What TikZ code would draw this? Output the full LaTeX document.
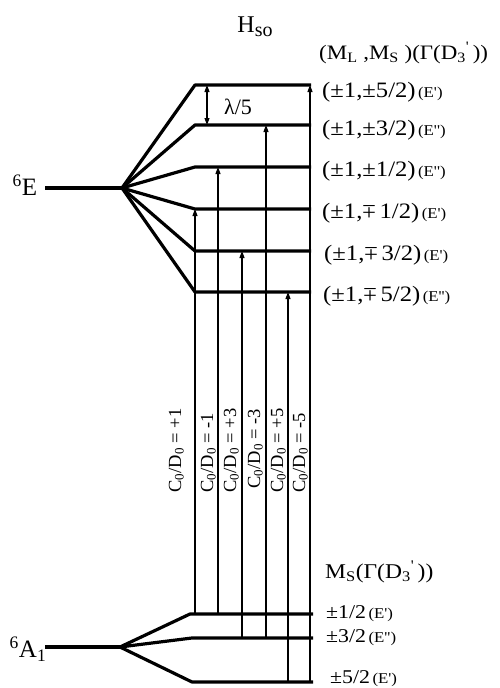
\documentclass[tikz,border=0pt]{standalone}
\usepackage{fontspec}
\setmainfont{Liberation Serif}
\newfontfamily\wideserif{Liberation Serif}[FakeStretch=1.12]
\usetikzlibrary{arrows.meta}
% minus-plus sign built from a turned plus-minus sign
\newcommand\mpsgn{\rotatebox[origin=c]{180}{±}}
% small irreducible-representation tag
\newcommand\irr[1]{{\fontsize{15}{16}\selectfont\,(#1)}}
% D'_3 group symbol
\newcommand\dthree{D\textsubscript{3}\textsuperscript{'}}
\tikzset{
  level/.style={line width=3.2pt, line join=round},
  trans/.style={line width=1.1pt, -{Triangle[length=7pt,width=5pt]}},
  gap/.style={line width=1.1pt, {Triangle[length=7pt,width=5pt]}-{Triangle[length=7pt,width=5pt]}},
  statelab/.style={anchor=west, inner sep=0pt, font=\wideserif\fontsize{22}{24}\selectfont},
  groundlab/.style={anchor=west, inner sep=0pt, font=\wideserif\fontsize{19.5}{21}\selectfont},
  termlab/.style={inner sep=0pt, font=\fontsize{25}{27}\selectfont},
  ratiolab/.style={rotate=90, anchor=south west, inner sep=0pt, font=\fontsize{18.5}{20}\selectfont},
}
\begin{document}
\begin{tikzpicture}[x=1pt,y=-1pt]
\useasboundingbox (0,0) rectangle (500,688);

% ---- excited term 6E and its spin-orbit components ----
\coordinate (Ebp) at (122,188);
\coordinate (Eleft) at (45,188);
\foreach \n/\y in {1/85,2/125,3/167,4/209,5/251,6/292}{
  \coordinate (u\n s) at (195,\y);
  \coordinate (u\n e) at (311,\y);
}
\draw[level] (Eleft) -- (Ebp);
\foreach \n in {1,...,6}{
  \draw[level] (Ebp) -- (u\n s) -- (u\n e);
}

% ---- ground term 6A1 ----
\coordinate (Abp) at (120,647);
\coordinate (Aleft) at (45,647);
\coordinate (g1s) at (190,614); \coordinate (g1e) at (313,614);
\coordinate (g2s) at (192,638); \coordinate (g2e) at (313,638);
\coordinate (g3s) at (192,682); \coordinate (g3e) at (313,682);
\draw[level] (Aleft) -- (Abp);
\foreach \n in {1,2,3}{
  \draw[level] (Abp) -- (g\n s) -- (g\n e);
}

% ---- transitions ----
\coordinate (t1b) at (195,614); \coordinate (t1t) at (195,209);
\coordinate (t2b) at (218,614); \coordinate (t2t) at (218,167);
\coordinate (t3b) at (242,638); \coordinate (t3t) at (242,251);
\coordinate (t4b) at (266,638); \coordinate (t4t) at (266,125);
\coordinate (t5b) at (288,682); \coordinate (t5t) at (288,292);
\coordinate (t6b) at (310,682); \coordinate (t6t) at (310,85);
\foreach \n in {1,...,6}{
  \draw[trans] (t\n b) -- (t\n t);
}

% ratio labels along the transitions
\node[ratiolab] (r1) at (184,493) {C\textsubscript{0}/D\textsubscript{0} = +1};
\node[ratiolab] (r2) at (216,493) {C\textsubscript{0}/D\textsubscript{0} = -1};
\node[ratiolab] (r3) at (239,493) {C\textsubscript{0}/D\textsubscript{0} = +3};
\node[ratiolab] (r4) at (263,489) {C\textsubscript{0}/D\textsubscript{0} = -3};
\node[ratiolab] (r5) at (286,493) {C\textsubscript{0}/D\textsubscript{0} = +5};
\node[ratiolab] (r6) at (308,493) {C\textsubscript{0}/D\textsubscript{0} = -5};

% splitting marker
\coordinate (lamtop) at (207,85);
\coordinate (lambot) at (207,125);
\draw[gap] (lamtop) -- (lambot);
\node[inner sep=0pt, font=\fontsize{22}{24}\selectfont] (lam) at (238,107) {λ/5};

% ---- headings ----
\node[inner sep=0pt, font=\fontsize{24}{26}\selectfont] (hso) at (255,27)
  {H{\fontsize{20}{20}\selectfont\raisebox{-0.4ex}{so}}};
\node[statelab, font=\wideserif\fontsize{20.5}{23}\selectfont] (hdr) at (319,53)
  {(M\textsubscript{L} ,M\textsubscript{S} )(Γ(\dthree\,))};
\node[groundlab, font=\wideserif\fontsize{21}{22}\selectfont] (ghdr) at (325,572)
  {M\textsubscript{S}(Γ(\dthree\,))};

% term symbols
\node[termlab] (E6) at (25,185) {\textsuperscript{6}E};
\node[termlab] (A6) at (28,649) {\textsuperscript{6}A\textsubscript{1}};

% ---- component labels ----
\node[statelab] (l1) at (322,92) {(±1,±5/2)\irr{E'}};
\node[statelab] (l2) at (322,130) {(±1,±3/2)\irr{E''}};
\node[statelab] (l3) at (322,171) {(±1,±1/2)\irr{E''}};
\node[statelab] (l4) at (322,213) {(±1,\mpsgn\,1/2)\irr{E'}};
\node[statelab] (l5) at (324,255) {(±1,\mpsgn\,3/2)\irr{E'}};
\node[statelab] (l6) at (323,296) {(±1,\mpsgn\,5/2)\irr{E''}};

\node[groundlab] (m1) at (326,614) {±1/2\irr{E'}};
\node[groundlab] (m2) at (326,638) {±3/2\irr{E''}};
\node[groundlab] (m3) at (330,679) {±5/2\irr{E'}};
\end{tikzpicture}
\end{document}
